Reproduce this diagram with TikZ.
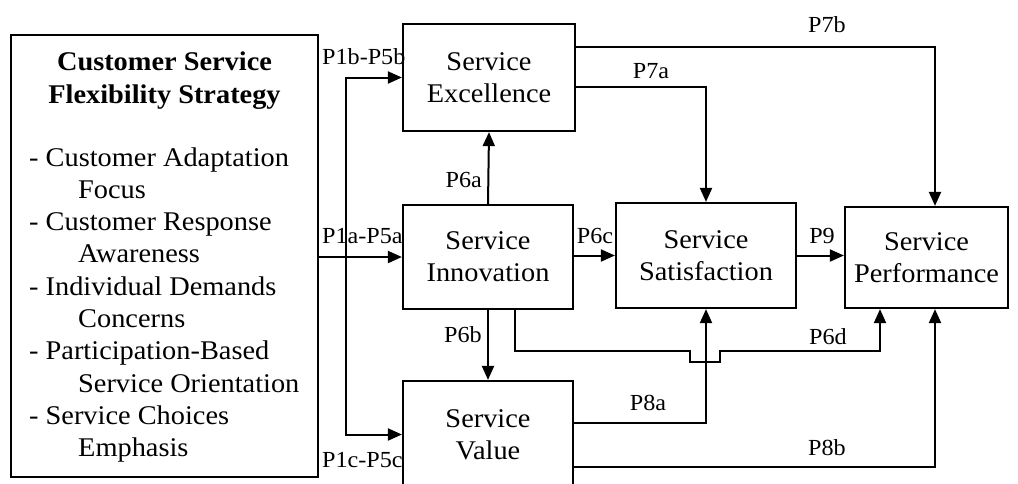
\documentclass[tikz,border=0pt]{standalone}
\usepackage{fontspec}
\setmainfont{Liberation Serif}[FakeStretch=1.05]
\usetikzlibrary{arrows.meta}

\begin{document}
\begin{tikzpicture}[x=1pt,y=-1pt,
  box/.style={draw,line width=2.2pt,inner sep=0pt,align=center,
              font=\fontsize{27}{32}\selectfont},
  link/.style={line width=2pt,-{Triangle[length=14pt,width=12pt]}},
  lbl/.style={inner sep=0pt,font=\fontsize{23}{28}\selectfont},
  item/.style={anchor=base west,inner sep=0pt,font=\fontsize{27}{32}\selectfont},
  head/.style={anchor=base,inner sep=0pt,font=\fontsize{27}{33}\selectfont\bfseries}]

\clip (0,0) rectangle (1018,483);
\fill[white] (0,0) rectangle (1018,483);

% strategy box and its contents
\node[draw,line width=2.2pt,minimum width=307pt,minimum height=442pt,inner sep=0pt] (csfs) at (164.5,256) {};
\node[head] (h1) at (164.5,70) {Customer Service};
\node[head] (h2) at (164.5,103) {Flexibility Strategy};
\node[item] (l1)  at (29,166)   {- Customer Adaptation};
\node[item] (l2)  at (78,198.3) {Focus};
\node[item] (l3)  at (29,230.6) {- Customer Response};
\node[item] (l4)  at (78,262.9) {Awareness};
\node[item] (l5)  at (29,295.2) {- Individual Demands};
\node[item] (l6)  at (78,327.5) {Concerns};
\node[item] (l7)  at (29,359.8) {- Participation-Based};
\node[item] (l8)  at (78,392.1) {Service Orientation};
\node[item] (l9)  at (29,424.4) {- Service Choices};
\node[item] (l10) at (78,456.7) {Emphasis};

% construct boxes
\node[box,minimum width=172pt,minimum height=107pt] (exc)  at (489,77.5)  {Service\\Excellence};
\node[box,minimum width=170pt,minimum height=104pt] (inn)  at (488,257)   {Service\\Innovation};
\node[box,minimum width=180pt,minimum height=105pt] (sat)  at (706,255.5) {Service\\Satisfaction};
\node[box,minimum width=163pt,minimum height=101pt] (perf) at (926.5,257.5) {Service\\Performance};
\node[box,minimum width=170pt,minimum height=107pt] (val)  at (488,434.5) {Service\\Value};

% strategy -> first-level constructs
\coordinate (trunk) at (346,257);
\draw[link] (csfs.east |- inn.west) -- (inn.west);
\draw[link] (trunk) |- (exc.west);
\draw[link] (trunk) |- (val.west);
\node[lbl,anchor=west] (p1b) at (322,57)  {P1b-P5b};
\node[lbl,anchor=west] (p1a) at (322,236) {P1a-P5a};
\node[lbl,anchor=west] (p1c) at (322,460) {P1c-P5c};

% innovation paths
\draw[link] (inn.north) -- (exc.south);
\draw[link] (inn.south) -- (val.north);
\draw[link] (inn.east |- sat.west) -- (sat.west);
\node[lbl,anchor=east] (p6a) at (482,180) {P6a};
\node[lbl,anchor=east] (p6b) at (482,335) {P6b};
\node[lbl] (p6c) at (595,236) {P6c};

% satisfaction -> performance
\draw[link] (sat.east) -- (perf.west |- sat.east);
\node[lbl] (p9) at (822,236) {P9};

% excellence paths
\draw[link] (exc.east |- 0,87) -| (sat.north);
\draw[link] (exc.east |- 0,47) -| (perf.north -| 935,0);
\node[lbl] (p7a) at (651,71) {P7a};
\node[lbl] (p7b) at (827,25) {P7b};

% innovation -> performance, bridging the P8a line
\draw[link] (inn.south -| 515,0) -- (515,351) -- (690,351) -- (690,362)
            -- (720,362) -- (720,351) -| (perf.south -| 880,0);
\node[lbl] (p6d) at (828,337) {P6d};

% value paths
\draw[link] (val.east |- 0,423) -| (sat.south);
\draw[link] (val.east |- 0,467) -| (perf.south -| 935,0);
\node[lbl] (p8a) at (648,403) {P8a};
\node[lbl] (p8b) at (827,448) {P8b};
\end{tikzpicture}
\end{document}
